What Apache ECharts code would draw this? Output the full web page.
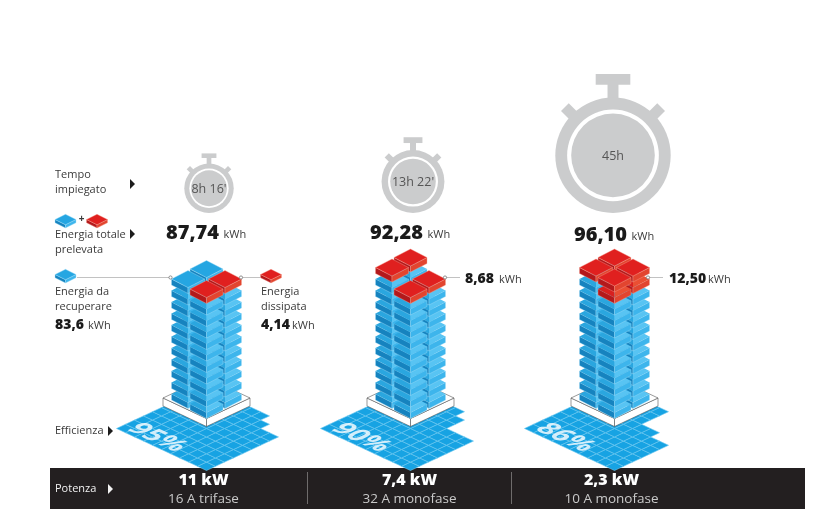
<!DOCTYPE html>
<html><head><meta charset="utf-8">
<style>html,body{margin:0;padding:0;background:#fff}#c{width:819px;height:512px}</style>
<script src="https://cdn.jsdelivr.net/npm/echarts@6/dist/echarts.min.js"></script>
</head><body><div id="c"></div>
<script>
// ---- data ----
const towers = ['Colonna 1', 'Colonna 2', 'Colonna 3'];
const hours = [8 + 16 / 60, 13 + 22 / 60, 45];
const timeLabels = ["8h 16'", "13h 22'", "45h"];
const totalEnergy = [87.74, 92.28, 96.10];
const recovered = [83.6, 83.6, 83.6];
const dissipated = [4.14, 8.68, 12.50];
const efficiency = [95, 90, 86];
const floorGapRows = [[2, 2, 1], [3, 3, 3, 1], [4, 4, 3, 3]];
const powerLabels = ['11 kW', '7,4 kW', '2,3 kW'];
const supplyLabels = ['16 A trifase', '32 A monofase', '10 A monofase'];
const kwhPerBrick = 2, bricksPerLayer = 4;

const it = n => n.toFixed(2).replace('.', ',');
const FONT = '"Open Sans"';
const BLUE = {top:'#25a6e2', left:'#1683bf', right:'#3db5ec', under:'#2aa6df', underR:'#58c4f3', line:'#a5def7'};
const RED = {top:'#e0201f', left:'#b3191c', right:'#e2452f', under:'#d8201f', underR:'#ea4f33', line:'#f4a090'};

// ---- marks built from the arrays ----
const brickData = [];
towers.forEach((_, t) => {
  const nBlue = Math.round(recovered[t] / kwhPerBrick);
  const nRed = Math.round(dissipated[t] / kwhPerBrick);
  const total = nBlue + nRed;
  for (let k = 0; k < total; k++) {
    const layer = Math.floor(k / bricksPerLayer);
    brickData.push([t, (layer + 1) * bricksPerLayer * kwhPerBrick, k % bricksPerLayer, k < nBlue ? 0 : 1, k + bricksPerLayer < total ? 1 : 0]);
  }
});
const floorData = [];
towers.forEach((_, t) => {
  for (let v = 0; v < 10; v++) for (let u = 0; u < 10; u++) {
    const gap = floorGapRows[t][v] || 0;
    if (u < 10 - gap) floorData.push([t, 0, u, v]);
  }
});
const towerIdx = towers.map((_, i) => i);

// ---- drawing helpers ----
function brickShapes(cx, cy, a, b, h, c, covered) {
  const T = [cx, cy - b], R = [cx + a, cy], B = [cx, cy + b], L = [cx - a, cy];
  const dn = p => [p[0], p[1] + h];
  const st = (fill) => ({fill, stroke: c.line, lineWidth: 0.4});
  const parts = [];
  parts.push({type:'polygon', shape:{points:[L, B, dn(B), dn(L)]}, style:st(c.left)});
  parts.push({type:'polygon', shape:{points:[B, R, dn(R), dn(B)]}, style:st(c.right)});
  if (covered) {
    parts.push({type:'polygon', shape:{points:[L, T, B]}, style:{fill:c.under}});
    parts.push({type:'polygon', shape:{points:[T, R, B]}, style:{fill:c.underR}});
  } else {
    parts.push({type:'polygon', shape:{points:[L, T, R, B]}, style:st(c.top)});
  }
  return parts;
}
function txt(s, x, y, size, weight, fill, align) {
  return {type:'text', x, y, silent:true, z:50, style:{text:s, fill, font:`${weight} ${size}px ${FONT}`, textAlign:align||'left', align:align||'left', textVerticalAlign:'middle', verticalAlign:'middle'}};
}
function tri(x, y, c) {
  return {type:'polygon', z:50, silent:true, shape:{points:[[x, y-5],[x+5, y],[x, y+5]]}, style:{fill:c||'#1c1c1c'}};
}
function lead(x1, x2, y, dot) {
  const o = [{type:'line', z:40, silent:true, shape:{x1, y1:y, x2, y2:y}, style:{stroke:'#999', lineWidth:0.6}}];
  dot.forEach(d => o.push({type:'circle', z:41, silent:true, shape:{cx:d, cy:y, r:1.6}, style:{fill:'#fff', stroke:'#666', lineWidth:0.7}}));
  return o;
}
function icon(cx, cy, c) {
  return {type:'group', z:45, silent:true, children: brickShapes(cx, cy, 10.5, 5.2, 3.2, c, false)};
}

// ---- static page furniture ----
const DARK = '#3a3a3a';
const graphics = [
  {type:'rect', z:1, silent:true, shape:{x:50, y:468, width:755, height:41}, style:{fill:'#231f20'}},
  {type:'line', z:2, silent:true, shape:{x1:307.5, y1:472, x2:307.5, y2:504}, style:{stroke:'#6f6c6c', lineWidth:1}},
  {type:'line', z:2, silent:true, shape:{x1:511.5, y1:472, x2:511.5, y2:504}, style:{stroke:'#6f6c6c', lineWidth:1}},
  txt('Tempo', 55, 175, 11, 400, DARK), txt('impiegato', 55, 190, 11, 400, DARK), tri(130, 184),
  icon(65.5, 219.5, BLUE), txt('+', 81.5, 219, 10, 700, DARK, 'center'), icon(97, 219.5, RED),
  txt('Energia totale', 55, 235, 11, 400, DARK), tri(130, 234), txt('prelevata', 55, 250, 11, 400, DARK),
  icon(65.5, 274.5, BLUE), txt('Energia da', 55, 292, 11, 400, DARK), txt('recuperare', 55, 307, 11, 400, DARK),
  txt(recovered[0].toFixed(1).replace('.', ','), 55, 325, 14, 800, '#1b1b1b'), txt('kWh', 88, 326, 11, 400, DARK),
  icon(271, 274.5, RED), txt('Energia', 261, 292, 11, 400, DARK), txt('dissipata', 261, 307, 11, 400, DARK),
  txt(it(dissipated[0]), 261, 325, 14, 800, '#1b1b1b'), txt('kWh', 292, 326, 11, 400, DARK),
  ...lead(77, 170.5, 277.5, [170.5]), ...lead(241, 260, 277.5, [241]),
  ...lead(445, 460, 277.5, [445]), ...lead(648, 663, 277.5, [648]),
  txt(it(dissipated[1]), 465, 279, 14, 800, '#1b1b1b'), txt('kWh', 499, 280, 11, 400, DARK),
  txt(it(dissipated[2]), 669, 279, 14, 800, '#1b1b1b'), txt('kWh', 708, 280, 11, 400, DARK),
  txt('Efficienza', 55, 431, 11, 400, DARK), tri(108, 431),
  txt('Potenza', 55, 489, 11, 400, '#f2f2f2'), tri(108, 489, '#f2f2f2')
];
// layout offsets of the stopwatches and total labels relative to each tower
const watchDx = [2.5, 2.5, -1.5];
const totalDy = [0, 0, 2];
const labelDx = [-3, -1, -3];

// ---- chart ----
const WATCH_BOTTOM = -192.5, WATCH_K = 8.6;
const option = {
  animation: false,
  backgroundColor: '#fff',
  grid: {left: 104.5, width: 612, top: 261.75, height: 143.75},
  xAxis: {type:'category', data: towers, show:false},
  yAxis: {type:'value', min:0, max:100, show:false},
  graphic: {elements: graphics},
  series: [
    { // floor: one cell per percentage point of efficiency
      type:'custom', coordinateSystem:'cartesian2d', silent:true, z:3, clip:false,
      data: floorData, encode:{x:0, y:1},
      renderItem(p, api) {
        const o = api.coord([api.value(0), 0]);
        const u = api.value(2), v = api.value(3), a = 9, b = 4.2, y0 = o[1] + 65;
        const P = (uu, vv) => [o[0] + a * (uu - vv), y0 - b * (uu + vv)];
        return {type:'polygon', shape:{points:[P(u,v), P(u+1,v), P(u+1,v+1), P(u,v+1)]},
          style:{fill:'#17a3e3', stroke:'#6cc7f0', lineWidth:0.6}};
      }
    },
    { // efficiency percent painted on the floor
      type:'custom', coordinateSystem:'cartesian2d', silent:true, z:4, clip:false,
      data: towerIdx.map(i => [i, 0]), encode:{x:0, y:1},
      renderItem(p, api) {
        const i = api.value(0), o = api.coord([i, 0]);
        return {type:'group', x:o[0] - 49, y:o[1] + 32, scaleX:1, scaleY:0.467, children:[
          {type:'text', rotation:-Math.PI / 4, style:{text: efficiency[i] + '%', x:0, y:0, fill:'rgba(255,255,255,0.8)',
            font:`700 34px ${FONT}`, textAlign:'center', align:'center', textVerticalAlign:'middle', verticalAlign:'middle'}}
        ]};
      }
    },
    { // plinth
      type:'custom', coordinateSystem:'cartesian2d', silent:true, z:5, clip:false,
      data: towerIdx.map(i => [i, 0]), encode:{x:0, y:1},
      renderItem(p, api) {
        const o = api.coord([api.value(0), 0]), cx = o[0], cy = o[1] - 7.5, a = 43.5, b = 20.5, h = 8;
        const s = {stroke:'#555', lineWidth:0.6};
        return {type:'group', children:[
          {type:'polygon', shape:{points:[[cx-a,cy],[cx,cy+b],[cx,cy+b+h],[cx-a,cy+h]]}, style:{fill:'#fff', ...s}},
          {type:'polygon', shape:{points:[[cx,cy+b],[cx+a,cy],[cx+a,cy+h],[cx,cy+b+h]]}, style:{fill:'#fff', ...s}},
          {type:'polygon', shape:{points:[[cx-a,cy],[cx,cy-b],[cx+a,cy],[cx,cy+b]]}, style:{fill:'#fff', ...s}}
        ]};
      }
    },
    { // bricks: one brick per 2 kWh, blue recovered then red dissipated
      type:'custom', coordinateSystem:'cartesian2d', silent:true, z:6, clip:false,
      data: brickData, encode:{x:0, y:1},
      renderItem(p, api) {
        const o = api.coord([api.value(0), api.value(1)]);
        const slot = api.value(2), c = api.value(3) ? RED : BLUE, covered = api.value(4);
        const dx = [0, -18.5, 18.5, 0][slot], dy = [-10, 0, 0, 10][slot];
        return {type:'group', children: brickShapes(o[0] + dx, o[1] + dy, 16.5, 8.5, 6, c, covered)};
      }
    },
    { // stopwatches: area proportional to time
      type:'custom', coordinateSystem:'cartesian2d', silent:true, z:7, clip:false,
      data: towerIdx.map(i => [i, 0, hours[i]]), encode:{x:0, y:1},
      renderItem(p, api) {
        const i = api.value(0), o = api.coord([i, 0]);
        const r = WATCH_K * Math.sqrt(api.value(2)), cx = o[0] + watchDx[i], cy = o[1] + WATCH_BOTTOM - r;
        const G = '#cbcccd';
        const lug = sgn => ({type:'rect', x:cx, y:cy, originX:0, originY:0, rotation: sgn * Math.PI / 4,
          shape:{x:-0.095 * r, y:-1.18 * r, width:0.19 * r, height:0.4 * r}, style:{fill:G}});
        return {type:'group', children:[
          {type:'rect', shape:{x:cx - 0.3 * r, y:cy - 1.41 * r, width:0.6 * r, height:0.185 * r}, style:{fill:G}},
          {type:'rect', shape:{x:cx - 0.095 * r, y:cy - 1.3 * r, width:0.19 * r, height:0.4 * r}, style:{fill:G}},
          lug(1), lug(-1),
          {type:'circle', shape:{cx, cy, r}, style:{fill:G}},
          {type:'circle', shape:{cx, cy, r:0.795 * r}, style:{fill:'#fff'}},
          {type:'circle', shape:{cx, cy, r:0.725 * r}, style:{fill:G}},
          {type:'text', x:cx, y:cy + 1, style:{text:timeLabels[i], fill:'#555', font:`400 12.5px ${FONT}`,
            textAlign:'center', align:'center', textVerticalAlign:'middle', verticalAlign:'middle'}}
        ]};
      }
    },
    { // totals and bottom-band labels
      type:'custom', coordinateSystem:'cartesian2d', silent:true, z:8, clip:false,
      data: towerIdx.map(i => [i, 0]), encode:{x:0, y:1},
      renderItem(p, api) {
        const i = api.value(0), o = api.coord([i, 0]), cx = o[0];
        const ty = 233 + totalDy[i], lx = cx + labelDx[i];
        return {type:'group', children:[
          {type:'text', x:cx + 12.5, y:ty, style:{text:it(totalEnergy[i]), fill:'#1b1b1b', font:`800 20px ${FONT}`, textAlign:'right', align:'right', textVerticalAlign:'middle', verticalAlign:'middle'}},
          {type:'text', x:cx + 17, y:ty + 2, style:{text:'kWh', fill:DARK, font:`400 11px ${FONT}`, textVerticalAlign:'middle', verticalAlign:'middle'}},
          {type:'text', x:lx, y:480, style:{text:powerLabels[i], fill:'#fff', font:`800 16px ${FONT}`, textAlign:'center', align:'center', textVerticalAlign:'middle', verticalAlign:'middle'}},
          {type:'text', x:lx, y:499, style:{text:supplyLabels[i], fill:'#c9c9c9', font:`400 13.5px ${FONT}`, textAlign:'center', align:'center', textVerticalAlign:'middle', verticalAlign:'middle'}}
        ]};
      }
    }
  ]
};
echarts.init(document.getElementById('c'), null, {renderer:'canvas'}).setOption(option);
</script></body></html>
